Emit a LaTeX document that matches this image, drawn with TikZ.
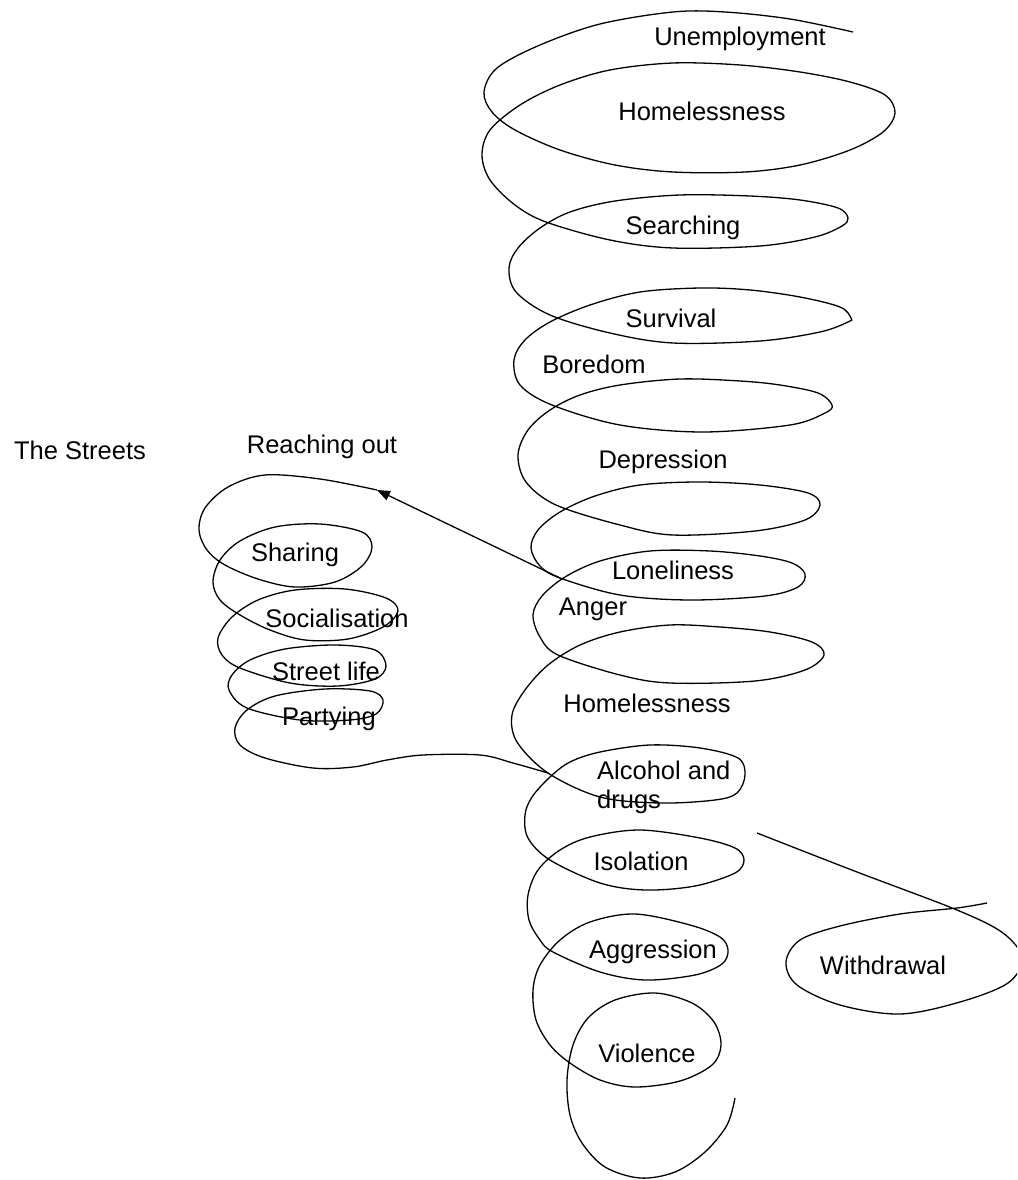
\documentclass[tikz,border=0pt]{standalone}
\usepackage{fontspec}
\setmainfont{Liberation Sans}
\usetikzlibrary{arrows.meta}

\tikzset{
  lbl/.style={font=\fontsize{25.5}{31}\selectfont, inner sep=0pt},
  coil/.style={line width=1.3pt, smooth, tension=0.55}
}

\begin{document}
\begin{tikzpicture}[x=1pt,y=-1pt]
		\useasboundingbox (0,0) rectangle (1017,1180);
		\begin{scope}                           % frame of the sketch
			\clip (0,0) rectangle (1017,1180);
			% the main coil
			\draw[coil] plot coordinates {(853,32) (790,19) (725,12) (673,12) (600,24) (540,45) (497,68) (484,92) (492,112) (515,130) (560,150) (615,165) (673,172) (745,172) (800,165) (850,150) (883,132) (895,113) (885,95) (850,82) (800,72) (740,65) (673,63) (610,70) (560,85) (520,105) (490,130) (482,155) (490,180) (515,205) (546,222) (610,240) (673,248) (760,246) (815,237) (842,226) (848,218) (838,208) (800,200) (750,196) (680,195) (615,201) (570,212) (540,228) (518,248) (509,268) (516,292) (550,315) (610,333) (673,343) (760,341) (820,332) (848,322) (851,318) (840,307) (800,297) (750,290) (700,288) (640,292) (590,305) (550,322) (525,340) (514,360) (520,385) (552,405) (620,425) (703,432) (790,425) (825,413) (832,405) (818,393) (780,385) (740,381) (680,379) (620,385) (580,395) (550,410) (528,430) (518,455) (526,482) (556,505) (620,525) (673,535) (755,531) (805,520) (820,505) (808,493) (760,485) (700,482) (640,485) (595,496) (560,512) (538,530) (531,548) (540,566) (560,578) (620,595) (690,600) (765,596) (798,587) (805,574) (792,563) (760,556) (710,551) (650,551) (600,561) (565,577) (542,596) (533,615) (540,637) (558,655) (620,675) (670,683) (755,681) (805,670) (824,655) (812,642) (770,632) (720,627) (670,625) (620,632) (580,645) (548,665) (525,690) (512,715) (517,742) (548,773) (600,797) (660,803) (715,800) (737,793) (745,775) (738,758) (700,748) (650,745) (600,752) (570,762) (550,777) (532,797) (525,815) (528,838) (550,860) (600,883) (645,890) (695,886) (735,873) (744,860) (735,848) (700,838) (640,830) (590,837) (560,850) (538,870) (528,895) (529,920) (540,940) (553,952) (600,972) (645,980) (695,975) (722,964) (728,950) (720,937) (690,925) (635,914) (590,922) (560,940) (540,965) (533,990) (536,1020) (550,1045) (570,1063) (600,1080) (635,1087) (680,1081) (712,1065) (721,1045) (714,1022) (692,1003) (655,993) (615,1000) (588,1018) (573,1045) (567,1080) (570,1115) (582,1143) (605,1167) (640,1178) (675,1172) (705,1152) (727,1125) (735,1098)};
			% withdrawal loop
			\draw[coil] plot coordinates {(757,833) (857,872) (957,910) (1003,933) (1022,958) (1008,983) (960,1002) (900,1014) (840,1005) (797,985) (786,962) (800,940) (840,926) (900,914) (957,908) (987,903)};
			% the streets coil
			\coordinate (lonelyx) at (560,578);
			\coordinate (reachtip) at (377,490);
			\coordinate (alcx) at (548,773);
			\draw[line width=1.3pt, -{Triangle[length=13pt,width=10pt]}] (lonelyx) -- (reachtip);
			\draw[coil] plot coordinates {(377,490) (320,479) (265,475) (228,487) (205,508) (199,530) (207,550) (225,565) (258,579) (295,587) (335,582) (362,566) (372,547) (362,532) (320,524) (275,527) (240,541) (220,560) (213,582) (220,600) (240,615) (270,630) (305,640) (348,639) (383,627) (398,611) (386,598) (345,589) (295,590) (258,600) (232,617) (218,638) (222,655) (240,668) (290,683) (338,686) (375,679) (386,666) (375,650) (335,645) (285,649) (250,660) (232,675) (229,690) (247,708) (300,720) (350,720) (376,714) (383,700) (370,691) (325,689) (275,696) (247,710) (235,728) (240,745) (265,758) (313,768) (353,767) (387,760) (423,755) (480,755) (513,763) (548,773)};
		\end{scope}
		% labels
		\node[lbl] (unemp)   at (740,39)   {Unemployment};
		\node[lbl] (home1)   at (702,111)  {Homelessness};
		\node[lbl] (search)  at (683,228)  {Searching};
		\node[lbl] (surv)    at (671,318)  {Survival};
		\node[lbl] (bored)   at (594,364)  {Boredom};
		\node[lbl] (depr)    at (663,462)  {Depression};
		\node[lbl] (lonely)  at (673,570)  {Loneliness};
		\node[lbl] (anger)   at (593,609)  {Anger};
		\node[lbl] (home2)   at (647,703)  {Homelessness};
		\node[lbl, anchor=west] (alc)   at (597,770) {Alcohol and};
		\node[lbl, anchor=west] (drugs) at (597,802) {drugs};
		\node[lbl] (isol)    at (641,861)  {Isolation};
		\node[lbl] (aggr)    at (653,952)  {Aggression};
		\node[lbl] (viol)    at (647,1053) {Violence};
		\node[lbl] (withd)   at (883,965)  {Withdrawal};
		\node[lbl] (streets) at (80,450)   {The Streets};
		\node[lbl] (reach)   at (322,447)  {Reaching out};
		\node[lbl] (share)   at (295,555)  {Sharing};
		\node[lbl] (social)  at (337,618)  {Socialisation};
		\node[lbl] (stlife)  at (326,671)  {Street life};
		\node[lbl] (party)   at (329,719)  {Partying};
		\end{tikzpicture}
\end{document}
